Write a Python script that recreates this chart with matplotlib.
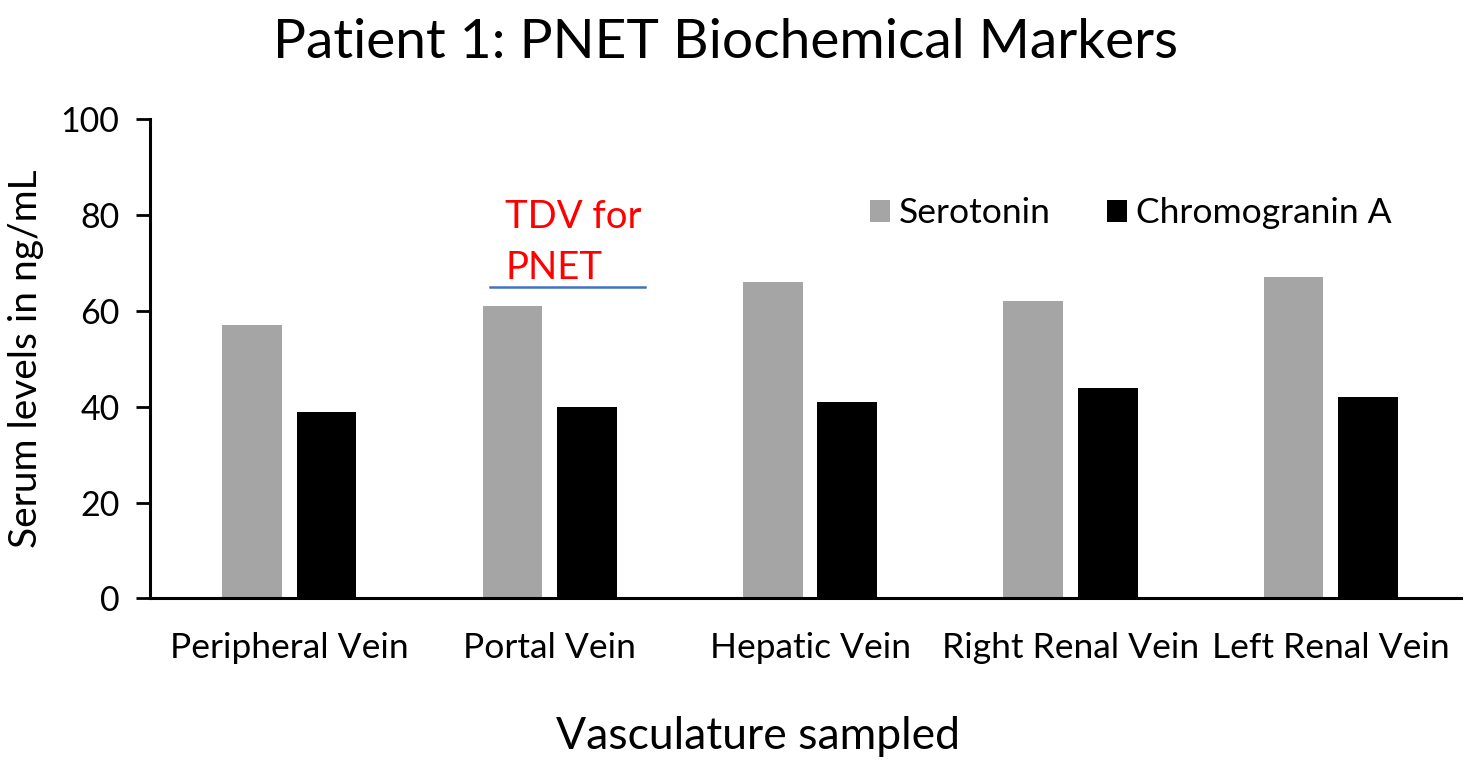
import matplotlib
matplotlib.use("Agg")
import matplotlib.pyplot as plt
import numpy as np

plt.rcParams['font.family'] = ['Lato', 'DejaVu Sans']

# data
sites = ['Peripheral Vein', 'Portal Vein', 'Hepatic Vein',
         'Right Renal Vein', 'Left Renal Vein']
serotonin = [57, 61, 66, 62, 67]
chromogranin = [39, 40, 41, 44, 42]
tdv_level = 65

fig = plt.figure(figsize=(14.68, 7.7), dpi=100)
ax = fig.add_axes([0.1022, 0.223, 0.893, 0.622])

x = np.arange(len(sites))
w = 0.23
ax.bar(x - 0.143, serotonin, width=w, color='#a5a5a5', label='Serotonin')
ax.bar(x + 0.143, chromogranin, width=w, color='black', label='Chromogranin A')

# threshold marker over the portal vein group
ax.plot([0.77, 1.367], [tdv_level, tdv_level], color='#4472c4', lw=1.8)
ax.text(0.83, 77.4, 'TDV for', color='red', fontsize=27.5, va='baseline')
ax.text(0.83, 66.6, 'PNET', color='red', fontsize=27.5, va='baseline')

ax.set_xlim(-0.535, 4.5)
ax.set_ylim(0, 100)
ax.set_yticks(range(0, 101, 20))
ax.set_xticks(x)
ax.set_xticklabels(sites)
ax.tick_params(axis='x', length=0, labelsize=25.5, pad=24)
ax.tick_params(axis='y', length=10, width=2, labelsize=24.5, pad=12, direction='out')

for s in ['top', 'right']:
    ax.spines[s].set_visible(False)
for s in ['left', 'bottom']:
    ax.spines[s].set_linewidth(2.2)

ax.set_ylabel('Serum levels in ng/mL', fontsize=28, labelpad=12)
ax.set_xlabel('Vasculature sampled', fontsize=32)
ax.xaxis.set_label_coords(0.464, -0.245)
fig.suptitle('Patient 1: PNET Biochemical Markers', fontsize=39.7, x=0.494, y=0.977)

ax.legend(loc='center left', bbox_to_anchor=(0.549, 0.804), ncol=2, frameon=False,
          fontsize=25.5, handlelength=0.57, handleheight=0.57, handletextpad=0.25,
          columnspacing=1.6, borderpad=0, borderaxespad=0)

fig.savefig('out.png', dpi=100)
